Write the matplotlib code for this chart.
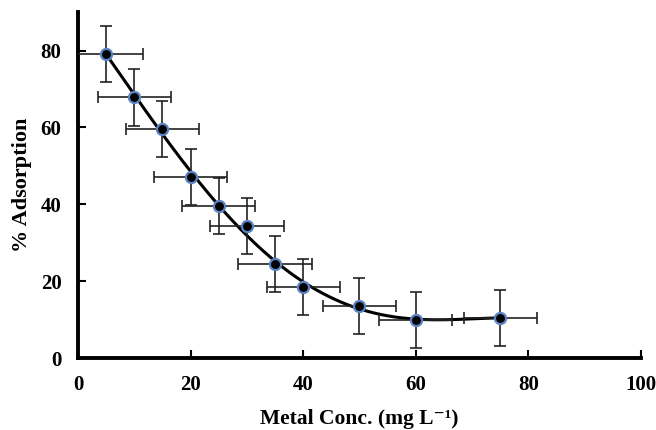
import matplotlib.pyplot as plt
import numpy as np

plt.rcParams['font.family'] = ['Liberation Serif', 'DejaVu Serif']
plt.rcParams['font.weight'] = 'bold'

conc = [5, 10, 15, 20, 25, 30, 35, 40, 50, 60, 75]
adsorption = [79.2, 67.8, 59.5, 47.0, 39.5, 34.3, 24.5, 18.5, 13.6, 10.0, 10.5]
y_err = [7.3, 7.3, 7.3, 7.3, 7.3, 7.3, 7.3, 7.3, 7.3, 7.3, 7.3]
x_err = [6.5, 6.5, 6.5, 6.5, 6.5, 6.5, 6.5, 6.5, 6.5, 6.5, 6.5]


def main():
    fig = plt.figure(figsize=(6.56, 4.3), dpi=100)
    ax = fig.add_axes([0.119, 0.167, 0.858, 0.805])

    # polynomial trend line through the data
    coef = np.polyfit(conc, adsorption, 4)
    sx = np.linspace(min(conc), max(conc), 300)
    ax.plot(sx, np.polyval(coef, sx), color='black', lw=2.2, zorder=2)

    ax.errorbar(conc, adsorption, xerr=x_err, yerr=y_err, fmt='none',
                ecolor='#222222', elinewidth=1.2, capsize=4, capthick=1.2,
                zorder=3)
    ax.plot(conc, adsorption, 'o', ms=8, mfc='black', mec='#5b84c4',
            mew=1.6, zorder=4, clip_on=False)

    ax.set_xlim(0, 100)
    ax.set_ylim(0, 90)
    ax.set_xticks(np.arange(0, 101, 20))
    ax.set_yticks(np.arange(0, 81, 20))
    ax.spines['top'].set_visible(False)
    ax.spines['right'].set_visible(False)
    for s in ('left', 'bottom'):
        ax.spines[s].set_linewidth(2.8)
    ax.tick_params(direction='in', length=6, width=1.5, labelsize=15, pad=12)
    for lab in ax.get_xticklabels() + ax.get_yticklabels():
        lab.set_fontweight('bold')

    ax.set_xlabel('Metal Conc. (mg L\u207b\u00b9)', fontsize=15.5,
                  fontweight='bold', labelpad=10)
    ax.set_ylabel('% Adsorption', fontsize=16, fontweight='bold', labelpad=6)

    fig.savefig('out.png', dpi=100)


if __name__ == '__main__':
    main()
